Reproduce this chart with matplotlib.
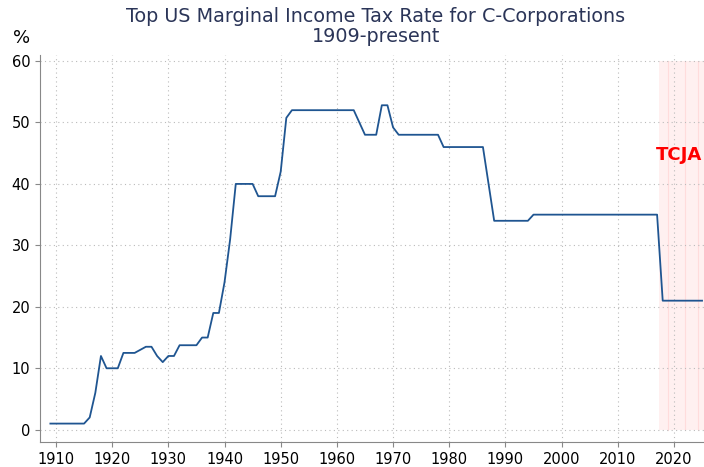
import matplotlib
matplotlib.use("Agg")
import matplotlib.pyplot as plt
import numpy as np

years = list(range(1909, 2026))
rates_by_period = [
    (1909, 1915, 1.0), (1916, 1916, 2.0), (1917, 1917, 6.0), (1918, 1918, 12.0),
    (1919, 1921, 10.0), (1922, 1924, 12.5), (1925, 1925, 13.0), (1926, 1927, 13.5),
    (1928, 1928, 12.0), (1929, 1929, 11.0), (1930, 1931, 12.0), (1932, 1935, 13.75),
    (1936, 1937, 15.0), (1938, 1939, 19.0), (1940, 1940, 24.0), (1941, 1941, 31.0),
    (1942, 1945, 40.0), (1946, 1949, 38.0), (1950, 1950, 42.0), (1951, 1951, 50.75),
    (1952, 1963, 52.0), (1964, 1964, 50.0), (1965, 1967, 48.0), (1968, 1969, 52.8),
    (1970, 1970, 49.2), (1971, 1978, 48.0), (1979, 1986, 46.0), (1987, 1987, 40.0),
    (1988, 1994, 34.0), (1995, 2017, 35.0), (2018, 2025, 21.0),
]
rates = []
for y in years:
    for a, b, r in rates_by_period:
        if a <= y <= b:
            rates.append(r)
            break

tcja_start, tcja_end = 2017.3, 2026
tcja_lines = [2019, 2022, 2024.3]

fig = plt.figure(figsize=(7.04, 4.67), dpi=100)
ax = fig.add_axes([0.0568, 0.0535, 0.9432, 0.829])

ax.fill_between([tcja_start, tcja_end], 0, 60, color='#fff0f0', lw=0, zorder=0)
for xl in tcja_lines:
    ax.plot([xl, xl], [0, 60], color='#ffdcdc', lw=0.8, zorder=0.5)

ax.plot(years, rates, color='#1f5591', lw=1.3, zorder=3)

ax.text(2020.9, 44.7, 'TCJA', color='red', fontsize=13, fontweight='bold',
        ha='center', va='center', zorder=4)

ax.set_xlim(1907.15, 2025.35)
ax.set_ylim(-2, 61)
ax.set_xticks(range(1910, 2021, 10))
ax.set_yticks(range(0, 61, 10))
ax.grid(True, linestyle=(0, (1, 3)), color='#bbbbbb', lw=0.8)
ax.set_axisbelow(True)
for s in ['top', 'right']:
    ax.spines[s].set_visible(False)
for s in ['left', 'bottom']:
    ax.spines[s].set_color('#888888')
ax.tick_params(colors='#888888', labelcolor='black', labelsize=10.5)

fig.text(0.534, 0.943, 'Top US Marginal Income Tax Rate for C-Corporations\n1909-present',
         ha='center', va='center', fontsize=13.8, color='#2b3558', linespacing=1.02)
fig.text(0.031, 0.918, '%', ha='center', va='center', fontsize=13)

fig.savefig('out.png', dpi=100)
